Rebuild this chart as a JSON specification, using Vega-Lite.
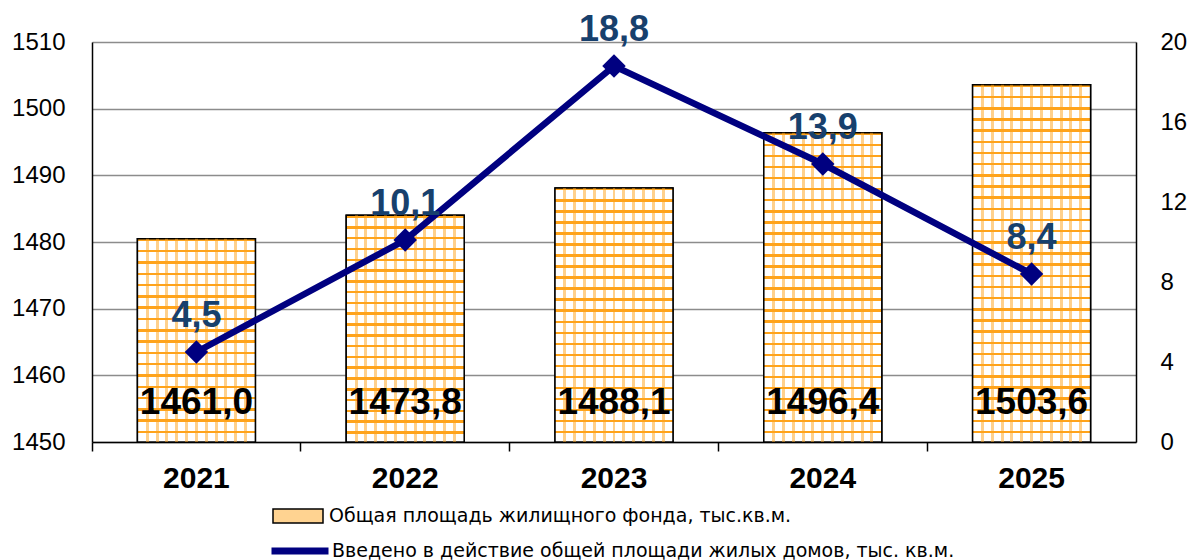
{
  "$schema": "https://vega.github.io/schema/vega-lite/v6.json",
  "width": 1044,
  "height": 400,
  "autosize": {"type": "none"},
  "padding": {"left": 92, "top": 42, "right": 54, "bottom": 118},
  "background": "white",
  "config": {
    "view": {"stroke": null},
    "font": "Liberation Sans"
  },
  "data": {
    "values": [
      {"year": "2021", "area": 1480.5, "area_label": "1461,0", "vvod": 4.5, "vvod_label": "4,5"},
      {"year": "2022", "area": 1484.0, "area_label": "1473,8", "vvod": 10.1, "vvod_label": "10,1"},
      {"year": "2023", "area": 1488.1, "area_label": "1488,1", "vvod": 18.8, "vvod_label": "18,8"},
      {"year": "2024", "area": 1496.4, "area_label": "1496,4", "vvod": 13.9, "vvod_label": "13,9"},
      {"year": "2025", "area": 1503.6, "area_label": "1503,6", "vvod": 8.4, "vvod_label": "8,4"}
    ]
  },
  "encoding": {
    "x": {
      "field": "year",
      "type": "ordinal",
      "scale": {"paddingInner": 0, "paddingOuter": 0},
      "axis": {
        "title": null,
        "labelAngle": 0,
        "bandPosition": 0,
        "grid": false,
        "ticks": true,
        "tickSize": 9,
        "tickColor": "black",
        "tickWidth": 1.5,
        "domainColor": "black",
        "domainWidth": 1.5,
        "labelFont": "Liberation Sans",
        "labelFontSize": 30,
        "labelFontWeight": "bold",
        "labelColor": "black",
        "labelPadding": 12
      }
    }
  },
  "layer": [
    {
      "layer": [
        {
          "mark": {"type": "bar", "width": {"band": 0.565}, "stroke": "black", "strokeWidth": 1.5},
          "encoding": {
            "y": {
              "field": "area",
              "type": "quantitative",
              "scale": {"domain": [1450, 1510], "zero": false, "nice": false},
              "axis": {
                "orient": "left",
                "title": null,
                "values": [1450, 1460, 1470, 1480, 1490, 1500, 1510],
                "format": "d",
                "grid": true,
                "gridColor": "#8c8c8c",
                "gridWidth": 1.5,
                "ticks": false,
                "tickSize": 0,
                "labelPadding": 27,
                "labelFont": "Liberation Sans",
                "labelFontSize": 24,
                "labelColor": "black",
                "domainColor": "black",
                "domainWidth": 1.5
              }
            },
            "y2": {"datum": 1450},
            "fill": {
              "datum": "Общая площадь жилищного фонда, тыс.кв.м.",
              "scale": {"range": ["#FFD391"]},
              "legend": {
                "orient": "none",
                "legendX": 180,
                "legendY": 448,
                "title": null,
                "symbolType": "M-1,-0.28H1V0.28H-1Z",
                "symbolSize": 2500,
                "symbolStrokeColor": "black",
                "symbolStrokeWidth": 1.5,
                "symbolOpacity": 1,
                "labelFont": "DejaVu Sans",
                "labelFontSize": 19,
                "labelColor": "black",
                "labelOffset": 5,
                "labelLimit": 0
              }
            }
          }
        },
        {
          "transform": [{"filter": "datum.year === '2021'"}],
          "mark": {"type": "bar", "width": {"band": 0.565}, "stroke": "black", "strokeWidth": 1.5,
            "fill": {"gradient": "linear", "x1": 0, "y1": 0, "x2": 0, "y2": 1, "stops": [
              {"offset":0,"color":"#ffa31a"},{"offset":0.0123,"color":"#ffa31a"},{"offset":0.0123,"color":"#fff"},{"offset":0.0556,"color":"#fff"},
              {"offset":0.0556,"color":"#ffa31a"},{"offset":0.0679,"color":"#ffa31a"},{"offset":0.0679,"color":"#fff"},{"offset":0.1111,"color":"#fff"},
              {"offset":0.1111,"color":"#ffa31a"},{"offset":0.1234,"color":"#ffa31a"},{"offset":0.1234,"color":"#fff"},{"offset":0.1667,"color":"#fff"},
              {"offset":0.1667,"color":"#ffa31a"},{"offset":0.179,"color":"#ffa31a"},{"offset":0.179,"color":"#fff"},{"offset":0.2222,"color":"#fff"},
              {"offset":0.2222,"color":"#ffa31a"},{"offset":0.2345,"color":"#ffa31a"},{"offset":0.2345,"color":"#fff"},{"offset":0.2778,"color":"#fff"},
              {"offset":0.2778,"color":"#ffa31a"},{"offset":0.2901,"color":"#ffa31a"},{"offset":0.2901,"color":"#fff"},{"offset":0.3333,"color":"#fff"},
              {"offset":0.3333,"color":"#ffa31a"},{"offset":0.3456,"color":"#ffa31a"},{"offset":0.3456,"color":"#fff"},{"offset":0.3889,"color":"#fff"},
              {"offset":0.3889,"color":"#ffa31a"},{"offset":0.4012,"color":"#ffa31a"},{"offset":0.4012,"color":"#fff"},{"offset":0.4444,"color":"#fff"},
              {"offset":0.4444,"color":"#ffa31a"},{"offset":0.4567,"color":"#ffa31a"},{"offset":0.4567,"color":"#fff"},{"offset":0.5,"color":"#fff"},
              {"offset":0.5,"color":"#ffa31a"},{"offset":0.5123,"color":"#ffa31a"},{"offset":0.5123,"color":"#fff"},{"offset":0.5556,"color":"#fff"},
              {"offset":0.5556,"color":"#ffa31a"},{"offset":0.5679,"color":"#ffa31a"},{"offset":0.5679,"color":"#fff"},{"offset":0.6111,"color":"#fff"},
              {"offset":0.6111,"color":"#ffa31a"},{"offset":0.6234,"color":"#ffa31a"},{"offset":0.6234,"color":"#fff"},{"offset":0.6667,"color":"#fff"},
              {"offset":0.6667,"color":"#ffa31a"},{"offset":0.679,"color":"#ffa31a"},{"offset":0.679,"color":"#fff"},{"offset":0.7222,"color":"#fff"},
              {"offset":0.7222,"color":"#ffa31a"},{"offset":0.7345,"color":"#ffa31a"},{"offset":0.7345,"color":"#fff"},{"offset":0.7778,"color":"#fff"},
              {"offset":0.7778,"color":"#ffa31a"},{"offset":0.7901,"color":"#ffa31a"},{"offset":0.7901,"color":"#fff"},{"offset":0.8333,"color":"#fff"},
              {"offset":0.8333,"color":"#ffa31a"},{"offset":0.8456,"color":"#ffa31a"},{"offset":0.8456,"color":"#fff"},{"offset":0.8889,"color":"#fff"},
              {"offset":0.8889,"color":"#ffa31a"},{"offset":0.9012,"color":"#ffa31a"},{"offset":0.9012,"color":"#fff"},{"offset":0.9444,"color":"#fff"},
              {"offset":0.9444,"color":"#ffa31a"},{"offset":0.9567,"color":"#ffa31a"},{"offset":0.9567,"color":"#fff"},{"offset":1,"color":"#fff"}
            ]}},
          "encoding": {"y": {"field": "area", "type": "quantitative"}, "y2": {"datum": 1450}}
        },
        {
          "transform": [{"filter": "datum.year === '2022'"}],
          "mark": {"type": "bar", "width": {"band": 0.565}, "stroke": "black", "strokeWidth": 1.5,
            "fill": {"gradient": "linear", "x1": 0, "y1": 0, "x2": 0, "y2": 1, "stops": [
              {"offset":0,"color":"#ffa31a"},{"offset":0.011,"color":"#ffa31a"},{"offset":0.011,"color":"#fff"},{"offset":0.0476,"color":"#fff"},
              {"offset":0.0476,"color":"#ffa31a"},{"offset":0.0586,"color":"#ffa31a"},{"offset":0.0586,"color":"#fff"},{"offset":0.0952,"color":"#fff"},
              {"offset":0.0952,"color":"#ffa31a"},{"offset":0.1062,"color":"#ffa31a"},{"offset":0.1062,"color":"#fff"},{"offset":0.1429,"color":"#fff"},
              {"offset":0.1429,"color":"#ffa31a"},{"offset":0.1539,"color":"#ffa31a"},{"offset":0.1539,"color":"#fff"},{"offset":0.1905,"color":"#fff"},
              {"offset":0.1905,"color":"#ffa31a"},{"offset":0.2015,"color":"#ffa31a"},{"offset":0.2015,"color":"#fff"},{"offset":0.2381,"color":"#fff"},
              {"offset":0.2381,"color":"#ffa31a"},{"offset":0.2491,"color":"#ffa31a"},{"offset":0.2491,"color":"#fff"},{"offset":0.2857,"color":"#fff"},
              {"offset":0.2857,"color":"#ffa31a"},{"offset":0.2967,"color":"#ffa31a"},{"offset":0.2967,"color":"#fff"},{"offset":0.3333,"color":"#fff"},
              {"offset":0.3333,"color":"#ffa31a"},{"offset":0.3443,"color":"#ffa31a"},{"offset":0.3443,"color":"#fff"},{"offset":0.381,"color":"#fff"},
              {"offset":0.381,"color":"#ffa31a"},{"offset":0.392,"color":"#ffa31a"},{"offset":0.392,"color":"#fff"},{"offset":0.4286,"color":"#fff"},
              {"offset":0.4286,"color":"#ffa31a"},{"offset":0.4396,"color":"#ffa31a"},{"offset":0.4396,"color":"#fff"},{"offset":0.4762,"color":"#fff"},
              {"offset":0.4762,"color":"#ffa31a"},{"offset":0.4872,"color":"#ffa31a"},{"offset":0.4872,"color":"#fff"},{"offset":0.5238,"color":"#fff"},
              {"offset":0.5238,"color":"#ffa31a"},{"offset":0.5348,"color":"#ffa31a"},{"offset":0.5348,"color":"#fff"},{"offset":0.5714,"color":"#fff"},
              {"offset":0.5714,"color":"#ffa31a"},{"offset":0.5824,"color":"#ffa31a"},{"offset":0.5824,"color":"#fff"},{"offset":0.619,"color":"#fff"},
              {"offset":0.619,"color":"#ffa31a"},{"offset":0.63,"color":"#ffa31a"},{"offset":0.63,"color":"#fff"},{"offset":0.6667,"color":"#fff"},
              {"offset":0.6667,"color":"#ffa31a"},{"offset":0.6777,"color":"#ffa31a"},{"offset":0.6777,"color":"#fff"},{"offset":0.7143,"color":"#fff"},
              {"offset":0.7143,"color":"#ffa31a"},{"offset":0.7253,"color":"#ffa31a"},{"offset":0.7253,"color":"#fff"},{"offset":0.7619,"color":"#fff"},
              {"offset":0.7619,"color":"#ffa31a"},{"offset":0.7729,"color":"#ffa31a"},{"offset":0.7729,"color":"#fff"},{"offset":0.8095,"color":"#fff"},
              {"offset":0.8095,"color":"#ffa31a"},{"offset":0.8205,"color":"#ffa31a"},{"offset":0.8205,"color":"#fff"},{"offset":0.8571,"color":"#fff"},
              {"offset":0.8571,"color":"#ffa31a"},{"offset":0.8681,"color":"#ffa31a"},{"offset":0.8681,"color":"#fff"},{"offset":0.9048,"color":"#fff"},
              {"offset":0.9048,"color":"#ffa31a"},{"offset":0.9158,"color":"#ffa31a"},{"offset":0.9158,"color":"#fff"},{"offset":0.9524,"color":"#fff"},
              {"offset":0.9524,"color":"#ffa31a"},{"offset":0.9634,"color":"#ffa31a"},{"offset":0.9634,"color":"#fff"},{"offset":1,"color":"#fff"}
            ]}},
          "encoding": {"y": {"field": "area", "type": "quantitative"}, "y2": {"datum": 1450}}
        },
        {
          "transform": [{"filter": "datum.year === '2023'"}],
          "mark": {"type": "bar", "width": {"band": 0.565}, "stroke": "black", "strokeWidth": 1.5,
            "fill": {"gradient": "linear", "x1": 0, "y1": 0, "x2": 0, "y2": 1, "stops": [
              {"offset":0,"color":"#ffa31a"},{"offset":0.0098,"color":"#ffa31a"},{"offset":0.0098,"color":"#fff"},{"offset":0.0435,"color":"#fff"},
              {"offset":0.0435,"color":"#ffa31a"},{"offset":0.0533,"color":"#ffa31a"},{"offset":0.0533,"color":"#fff"},{"offset":0.087,"color":"#fff"},
              {"offset":0.087,"color":"#ffa31a"},{"offset":0.0968,"color":"#ffa31a"},{"offset":0.0968,"color":"#fff"},{"offset":0.1304,"color":"#fff"},
              {"offset":0.1304,"color":"#ffa31a"},{"offset":0.1402,"color":"#ffa31a"},{"offset":0.1402,"color":"#fff"},{"offset":0.1739,"color":"#fff"},
              {"offset":0.1739,"color":"#ffa31a"},{"offset":0.1837,"color":"#ffa31a"},{"offset":0.1837,"color":"#fff"},{"offset":0.2174,"color":"#fff"},
              {"offset":0.2174,"color":"#ffa31a"},{"offset":0.2272,"color":"#ffa31a"},{"offset":0.2272,"color":"#fff"},{"offset":0.2609,"color":"#fff"},
              {"offset":0.2609,"color":"#ffa31a"},{"offset":0.2707,"color":"#ffa31a"},{"offset":0.2707,"color":"#fff"},{"offset":0.3043,"color":"#fff"},
              {"offset":0.3043,"color":"#ffa31a"},{"offset":0.3141,"color":"#ffa31a"},{"offset":0.3141,"color":"#fff"},{"offset":0.3478,"color":"#fff"},
              {"offset":0.3478,"color":"#ffa31a"},{"offset":0.3576,"color":"#ffa31a"},{"offset":0.3576,"color":"#fff"},{"offset":0.3913,"color":"#fff"},
              {"offset":0.3913,"color":"#ffa31a"},{"offset":0.4011,"color":"#ffa31a"},{"offset":0.4011,"color":"#fff"},{"offset":0.4348,"color":"#fff"},
              {"offset":0.4348,"color":"#ffa31a"},{"offset":0.4446,"color":"#ffa31a"},{"offset":0.4446,"color":"#fff"},{"offset":0.4783,"color":"#fff"},
              {"offset":0.4783,"color":"#ffa31a"},{"offset":0.4881,"color":"#ffa31a"},{"offset":0.4881,"color":"#fff"},{"offset":0.5217,"color":"#fff"},
              {"offset":0.5217,"color":"#ffa31a"},{"offset":0.5315,"color":"#ffa31a"},{"offset":0.5315,"color":"#fff"},{"offset":0.5652,"color":"#fff"},
              {"offset":0.5652,"color":"#ffa31a"},{"offset":0.575,"color":"#ffa31a"},{"offset":0.575,"color":"#fff"},{"offset":0.6087,"color":"#fff"},
              {"offset":0.6087,"color":"#ffa31a"},{"offset":0.6185,"color":"#ffa31a"},{"offset":0.6185,"color":"#fff"},{"offset":0.6522,"color":"#fff"},
              {"offset":0.6522,"color":"#ffa31a"},{"offset":0.662,"color":"#ffa31a"},{"offset":0.662,"color":"#fff"},{"offset":0.6957,"color":"#fff"},
              {"offset":0.6957,"color":"#ffa31a"},{"offset":0.7055,"color":"#ffa31a"},{"offset":0.7055,"color":"#fff"},{"offset":0.7391,"color":"#fff"},
              {"offset":0.7391,"color":"#ffa31a"},{"offset":0.7489,"color":"#ffa31a"},{"offset":0.7489,"color":"#fff"},{"offset":0.7826,"color":"#fff"},
              {"offset":0.7826,"color":"#ffa31a"},{"offset":0.7924,"color":"#ffa31a"},{"offset":0.7924,"color":"#fff"},{"offset":0.8261,"color":"#fff"},
              {"offset":0.8261,"color":"#ffa31a"},{"offset":0.8359,"color":"#ffa31a"},{"offset":0.8359,"color":"#fff"},{"offset":0.8696,"color":"#fff"},
              {"offset":0.8696,"color":"#ffa31a"},{"offset":0.8794,"color":"#ffa31a"},{"offset":0.8794,"color":"#fff"},{"offset":0.913,"color":"#fff"},
              {"offset":0.913,"color":"#ffa31a"},{"offset":0.9228,"color":"#ffa31a"},{"offset":0.9228,"color":"#fff"},{"offset":0.9565,"color":"#fff"},
              {"offset":0.9565,"color":"#ffa31a"},{"offset":0.9663,"color":"#ffa31a"},{"offset":0.9663,"color":"#fff"},{"offset":1,"color":"#fff"}
            ]}},
          "encoding": {"y": {"field": "area", "type": "quantitative"}, "y2": {"datum": 1450}}
        },
        {
          "transform": [{"filter": "datum.year === '2024'"}],
          "mark": {"type": "bar", "width": {"band": 0.565}, "stroke": "black", "strokeWidth": 1.5,
            "fill": {"gradient": "linear", "x1": 0, "y1": 0, "x2": 0, "y2": 1, "stops": [
              {"offset":0,"color":"#ffa31a"},{"offset":0.0081,"color":"#ffa31a"},{"offset":0.0081,"color":"#fff"},{"offset":0.0357,"color":"#fff"},
              {"offset":0.0357,"color":"#ffa31a"},{"offset":0.0438,"color":"#ffa31a"},{"offset":0.0438,"color":"#fff"},{"offset":0.0714,"color":"#fff"},
              {"offset":0.0714,"color":"#ffa31a"},{"offset":0.0795,"color":"#ffa31a"},{"offset":0.0795,"color":"#fff"},{"offset":0.1071,"color":"#fff"},
              {"offset":0.1071,"color":"#ffa31a"},{"offset":0.1152,"color":"#ffa31a"},{"offset":0.1152,"color":"#fff"},{"offset":0.1429,"color":"#fff"},
              {"offset":0.1429,"color":"#ffa31a"},{"offset":0.151,"color":"#ffa31a"},{"offset":0.151,"color":"#fff"},{"offset":0.1786,"color":"#fff"},
              {"offset":0.1786,"color":"#ffa31a"},{"offset":0.1867,"color":"#ffa31a"},{"offset":0.1867,"color":"#fff"},{"offset":0.2143,"color":"#fff"},
              {"offset":0.2143,"color":"#ffa31a"},{"offset":0.2224,"color":"#ffa31a"},{"offset":0.2224,"color":"#fff"},{"offset":0.25,"color":"#fff"},
              {"offset":0.25,"color":"#ffa31a"},{"offset":0.2581,"color":"#ffa31a"},{"offset":0.2581,"color":"#fff"},{"offset":0.2857,"color":"#fff"},
              {"offset":0.2857,"color":"#ffa31a"},{"offset":0.2938,"color":"#ffa31a"},{"offset":0.2938,"color":"#fff"},{"offset":0.3214,"color":"#fff"},
              {"offset":0.3214,"color":"#ffa31a"},{"offset":0.3295,"color":"#ffa31a"},{"offset":0.3295,"color":"#fff"},{"offset":0.3571,"color":"#fff"},
              {"offset":0.3571,"color":"#ffa31a"},{"offset":0.3652,"color":"#ffa31a"},{"offset":0.3652,"color":"#fff"},{"offset":0.3929,"color":"#fff"},
              {"offset":0.3929,"color":"#ffa31a"},{"offset":0.401,"color":"#ffa31a"},{"offset":0.401,"color":"#fff"},{"offset":0.4286,"color":"#fff"},
              {"offset":0.4286,"color":"#ffa31a"},{"offset":0.4367,"color":"#ffa31a"},{"offset":0.4367,"color":"#fff"},{"offset":0.4643,"color":"#fff"},
              {"offset":0.4643,"color":"#ffa31a"},{"offset":0.4724,"color":"#ffa31a"},{"offset":0.4724,"color":"#fff"},{"offset":0.5,"color":"#fff"},
              {"offset":0.5,"color":"#ffa31a"},{"offset":0.5081,"color":"#ffa31a"},{"offset":0.5081,"color":"#fff"},{"offset":0.5357,"color":"#fff"},
              {"offset":0.5357,"color":"#ffa31a"},{"offset":0.5438,"color":"#ffa31a"},{"offset":0.5438,"color":"#fff"},{"offset":0.5714,"color":"#fff"},
              {"offset":0.5714,"color":"#ffa31a"},{"offset":0.5795,"color":"#ffa31a"},{"offset":0.5795,"color":"#fff"},{"offset":0.6071,"color":"#fff"},
              {"offset":0.6071,"color":"#ffa31a"},{"offset":0.6152,"color":"#ffa31a"},{"offset":0.6152,"color":"#fff"},{"offset":0.6429,"color":"#fff"},
              {"offset":0.6429,"color":"#ffa31a"},{"offset":0.651,"color":"#ffa31a"},{"offset":0.651,"color":"#fff"},{"offset":0.6786,"color":"#fff"},
              {"offset":0.6786,"color":"#ffa31a"},{"offset":0.6867,"color":"#ffa31a"},{"offset":0.6867,"color":"#fff"},{"offset":0.7143,"color":"#fff"},
              {"offset":0.7143,"color":"#ffa31a"},{"offset":0.7224,"color":"#ffa31a"},{"offset":0.7224,"color":"#fff"},{"offset":0.75,"color":"#fff"},
              {"offset":0.75,"color":"#ffa31a"},{"offset":0.7581,"color":"#ffa31a"},{"offset":0.7581,"color":"#fff"},{"offset":0.7857,"color":"#fff"},
              {"offset":0.7857,"color":"#ffa31a"},{"offset":0.7938,"color":"#ffa31a"},{"offset":0.7938,"color":"#fff"},{"offset":0.8214,"color":"#fff"},
              {"offset":0.8214,"color":"#ffa31a"},{"offset":0.8295,"color":"#ffa31a"},{"offset":0.8295,"color":"#fff"},{"offset":0.8571,"color":"#fff"},
              {"offset":0.8571,"color":"#ffa31a"},{"offset":0.8652,"color":"#ffa31a"},{"offset":0.8652,"color":"#fff"},{"offset":0.8929,"color":"#fff"},
              {"offset":0.8929,"color":"#ffa31a"},{"offset":0.901,"color":"#ffa31a"},{"offset":0.901,"color":"#fff"},{"offset":0.9286,"color":"#fff"},
              {"offset":0.9286,"color":"#ffa31a"},{"offset":0.9367,"color":"#ffa31a"},{"offset":0.9367,"color":"#fff"},{"offset":0.9643,"color":"#fff"},
              {"offset":0.9643,"color":"#ffa31a"},{"offset":0.9724,"color":"#ffa31a"},{"offset":0.9724,"color":"#fff"},{"offset":1,"color":"#fff"}
            ]}},
          "encoding": {"y": {"field": "area", "type": "quantitative"}, "y2": {"datum": 1450}}
        },
        {
          "transform": [{"filter": "datum.year === '2025'"}],
          "mark": {"type": "bar", "width": {"band": 0.565}, "stroke": "black", "strokeWidth": 1.5,
            "fill": {"gradient": "linear", "x1": 0, "y1": 0, "x2": 0, "y2": 1, "stops": [
              {"offset":0,"color":"#ffa31a"},{"offset":0.007,"color":"#ffa31a"},{"offset":0.007,"color":"#fff"},{"offset":0.0313,"color":"#fff"},
              {"offset":0.0313,"color":"#ffa31a"},{"offset":0.0383,"color":"#ffa31a"},{"offset":0.0383,"color":"#fff"},{"offset":0.0625,"color":"#fff"},
              {"offset":0.0625,"color":"#ffa31a"},{"offset":0.0695,"color":"#ffa31a"},{"offset":0.0695,"color":"#fff"},{"offset":0.0938,"color":"#fff"},
              {"offset":0.0938,"color":"#ffa31a"},{"offset":0.1008,"color":"#ffa31a"},{"offset":0.1008,"color":"#fff"},{"offset":0.125,"color":"#fff"},
              {"offset":0.125,"color":"#ffa31a"},{"offset":0.132,"color":"#ffa31a"},{"offset":0.132,"color":"#fff"},{"offset":0.1563,"color":"#fff"},
              {"offset":0.1563,"color":"#ffa31a"},{"offset":0.1633,"color":"#ffa31a"},{"offset":0.1633,"color":"#fff"},{"offset":0.1875,"color":"#fff"},
              {"offset":0.1875,"color":"#ffa31a"},{"offset":0.1945,"color":"#ffa31a"},{"offset":0.1945,"color":"#fff"},{"offset":0.2188,"color":"#fff"},
              {"offset":0.2188,"color":"#ffa31a"},{"offset":0.2258,"color":"#ffa31a"},{"offset":0.2258,"color":"#fff"},{"offset":0.25,"color":"#fff"},
              {"offset":0.25,"color":"#ffa31a"},{"offset":0.257,"color":"#ffa31a"},{"offset":0.257,"color":"#fff"},{"offset":0.2813,"color":"#fff"},
              {"offset":0.2813,"color":"#ffa31a"},{"offset":0.2883,"color":"#ffa31a"},{"offset":0.2883,"color":"#fff"},{"offset":0.3125,"color":"#fff"},
              {"offset":0.3125,"color":"#ffa31a"},{"offset":0.3195,"color":"#ffa31a"},{"offset":0.3195,"color":"#fff"},{"offset":0.3438,"color":"#fff"},
              {"offset":0.3438,"color":"#ffa31a"},{"offset":0.3508,"color":"#ffa31a"},{"offset":0.3508,"color":"#fff"},{"offset":0.375,"color":"#fff"},
              {"offset":0.375,"color":"#ffa31a"},{"offset":0.382,"color":"#ffa31a"},{"offset":0.382,"color":"#fff"},{"offset":0.4063,"color":"#fff"},
              {"offset":0.4063,"color":"#ffa31a"},{"offset":0.4133,"color":"#ffa31a"},{"offset":0.4133,"color":"#fff"},{"offset":0.4375,"color":"#fff"},
              {"offset":0.4375,"color":"#ffa31a"},{"offset":0.4445,"color":"#ffa31a"},{"offset":0.4445,"color":"#fff"},{"offset":0.4688,"color":"#fff"},
              {"offset":0.4688,"color":"#ffa31a"},{"offset":0.4758,"color":"#ffa31a"},{"offset":0.4758,"color":"#fff"},{"offset":0.5,"color":"#fff"},
              {"offset":0.5,"color":"#ffa31a"},{"offset":0.507,"color":"#ffa31a"},{"offset":0.507,"color":"#fff"},{"offset":0.5313,"color":"#fff"},
              {"offset":0.5313,"color":"#ffa31a"},{"offset":0.5383,"color":"#ffa31a"},{"offset":0.5383,"color":"#fff"},{"offset":0.5625,"color":"#fff"},
              {"offset":0.5625,"color":"#ffa31a"},{"offset":0.5695,"color":"#ffa31a"},{"offset":0.5695,"color":"#fff"},{"offset":0.5938,"color":"#fff"},
              {"offset":0.5938,"color":"#ffa31a"},{"offset":0.6008,"color":"#ffa31a"},{"offset":0.6008,"color":"#fff"},{"offset":0.625,"color":"#fff"},
              {"offset":0.625,"color":"#ffa31a"},{"offset":0.632,"color":"#ffa31a"},{"offset":0.632,"color":"#fff"},{"offset":0.6563,"color":"#fff"},
              {"offset":0.6563,"color":"#ffa31a"},{"offset":0.6633,"color":"#ffa31a"},{"offset":0.6633,"color":"#fff"},{"offset":0.6875,"color":"#fff"},
              {"offset":0.6875,"color":"#ffa31a"},{"offset":0.6945,"color":"#ffa31a"},{"offset":0.6945,"color":"#fff"},{"offset":0.7188,"color":"#fff"},
              {"offset":0.7188,"color":"#ffa31a"},{"offset":0.7258,"color":"#ffa31a"},{"offset":0.7258,"color":"#fff"},{"offset":0.75,"color":"#fff"},
              {"offset":0.75,"color":"#ffa31a"},{"offset":0.757,"color":"#ffa31a"},{"offset":0.757,"color":"#fff"},{"offset":0.7813,"color":"#fff"},
              {"offset":0.7813,"color":"#ffa31a"},{"offset":0.7883,"color":"#ffa31a"},{"offset":0.7883,"color":"#fff"},{"offset":0.8125,"color":"#fff"},
              {"offset":0.8125,"color":"#ffa31a"},{"offset":0.8195,"color":"#ffa31a"},{"offset":0.8195,"color":"#fff"},{"offset":0.8438,"color":"#fff"},
              {"offset":0.8438,"color":"#ffa31a"},{"offset":0.8508,"color":"#ffa31a"},{"offset":0.8508,"color":"#fff"},{"offset":0.875,"color":"#fff"},
              {"offset":0.875,"color":"#ffa31a"},{"offset":0.882,"color":"#ffa31a"},{"offset":0.882,"color":"#fff"},{"offset":0.9063,"color":"#fff"},
              {"offset":0.9063,"color":"#ffa31a"},{"offset":0.9133,"color":"#ffa31a"},{"offset":0.9133,"color":"#fff"},{"offset":0.9375,"color":"#fff"},
              {"offset":0.9375,"color":"#ffa31a"},{"offset":0.9445,"color":"#ffa31a"},{"offset":0.9445,"color":"#fff"},{"offset":0.9688,"color":"#fff"},
              {"offset":0.9688,"color":"#ffa31a"},{"offset":0.9758,"color":"#ffa31a"},{"offset":0.9758,"color":"#fff"},{"offset":1,"color":"#fff"}
            ]}},
          "encoding": {"y": {"field": "area", "type": "quantitative"}, "y2": {"datum": 1450}}
        },
        {
          "mark": {"type": "bar", "width": {"band": 0.565}, "strokeWidth": 0,
            "fill": {"gradient": "linear", "x1": 0, "y1": 0, "x2": 1, "y2": 0, "stops": [
              {"offset":0,"color":"rgba(255,163,26,0)"},
              {"offset":0.0706,"color":"rgba(255,163,26,0)"},{"offset":0.0706,"color":"rgba(255,163,26,0.5)"},{"offset":0.096,"color":"rgba(255,163,26,0.5)"},{"offset":0.096,"color":"rgba(255,163,26,0)"},
              {"offset":0.154,"color":"rgba(255,163,26,0)"},{"offset":0.154,"color":"rgba(255,163,26,0.5)"},{"offset":0.1794,"color":"rgba(255,163,26,0.5)"},{"offset":0.1794,"color":"rgba(255,163,26,0)"},
              {"offset":0.2373,"color":"rgba(255,163,26,0)"},{"offset":0.2373,"color":"rgba(255,163,26,0.5)"},{"offset":0.2627,"color":"rgba(255,163,26,0.5)"},{"offset":0.2627,"color":"rgba(255,163,26,0)"},
              {"offset":0.3206,"color":"rgba(255,163,26,0)"},{"offset":0.3206,"color":"rgba(255,163,26,0.5)"},{"offset":0.346,"color":"rgba(255,163,26,0.5)"},{"offset":0.346,"color":"rgba(255,163,26,0)"},
              {"offset":0.404,"color":"rgba(255,163,26,0)"},{"offset":0.404,"color":"rgba(255,163,26,0.5)"},{"offset":0.4294,"color":"rgba(255,163,26,0.5)"},{"offset":0.4294,"color":"rgba(255,163,26,0)"},
              {"offset":0.4873,"color":"rgba(255,163,26,0)"},{"offset":0.4873,"color":"rgba(255,163,26,0.5)"},{"offset":0.5127,"color":"rgba(255,163,26,0.5)"},{"offset":0.5127,"color":"rgba(255,163,26,0)"},
              {"offset":0.5706,"color":"rgba(255,163,26,0)"},{"offset":0.5706,"color":"rgba(255,163,26,0.5)"},{"offset":0.596,"color":"rgba(255,163,26,0.5)"},{"offset":0.596,"color":"rgba(255,163,26,0)"},
              {"offset":0.654,"color":"rgba(255,163,26,0)"},{"offset":0.654,"color":"rgba(255,163,26,0.5)"},{"offset":0.6794,"color":"rgba(255,163,26,0.5)"},{"offset":0.6794,"color":"rgba(255,163,26,0)"},
              {"offset":0.7373,"color":"rgba(255,163,26,0)"},{"offset":0.7373,"color":"rgba(255,163,26,0.5)"},{"offset":0.7627,"color":"rgba(255,163,26,0.5)"},{"offset":0.7627,"color":"rgba(255,163,26,0)"},
              {"offset":0.8206,"color":"rgba(255,163,26,0)"},{"offset":0.8206,"color":"rgba(255,163,26,0.5)"},{"offset":0.846,"color":"rgba(255,163,26,0.5)"},{"offset":0.846,"color":"rgba(255,163,26,0)"},
              {"offset":0.904,"color":"rgba(255,163,26,0)"},{"offset":0.904,"color":"rgba(255,163,26,0.5)"},{"offset":0.9294,"color":"rgba(255,163,26,0.5)"},{"offset":0.9294,"color":"rgba(255,163,26,0)"},
              {"offset":1,"color":"rgba(255,163,26,0)"}
            ]}},
          "encoding": {"y": {"field": "area", "type": "quantitative"}, "y2": {"datum": 1450}}
        },
        {
          "mark": {"type": "text", "fontSize": 37, "fontWeight": "bold", "color": "black", "baseline": "alphabetic", "align": "center"},
          "encoding": {
            "y": {"datum": 1454.2, "type": "quantitative"},
            "text": {"field": "area_label", "type": "nominal"}
          }
        }
      ]
    },
    {
      "layer": [
        {
          "mark": {"type": "line", "strokeWidth": 6.5},
          "encoding": {
            "y": {
              "field": "vvod",
              "type": "quantitative",
              "scale": {"domain": [0, 20], "nice": false},
              "axis": {
                "orient": "right",
                "title": null,
                "values": [0, 4, 8, 12, 16, 20],
                "grid": false,
                "ticks": false,
                "tickSize": 0,
                "labelPadding": 24,
                "labelFont": "Liberation Sans",
                "labelFontSize": 24,
                "labelColor": "black",
                "domainColor": "black",
                "domainWidth": 1.5
              }
            },
            "stroke": {
              "datum": "Введено в действие общей площади жилых домов, тыс. кв.м.",
              "scale": {"range": ["#000080"]},
              "legend": {
                "orient": "none",
                "legendX": 176,
                "legendY": 477,
                "title": null,
                "symbolType": "stroke",
                "symbolSize": 3249,
                "symbolStrokeWidth": 7,
                "labelFont": "DejaVu Sans",
                "labelFontSize": 19,
                "labelColor": "black",
                "labelOffset": 0,
                "labelLimit": 0
              }
            }
          }
        },
        {
          "mark": {"type": "point", "shape": "diamond", "size": 550, "filled": true, "color": "#000080", "opacity": 1},
          "encoding": {
            "y": {"field": "vvod", "type": "quantitative"}
          }
        },
        {
          "mark": {"type": "text", "fontSize": 36, "fontWeight": "bold", "color": "#17406D", "baseline": "alphabetic", "align": "center", "dy": -25},
          "encoding": {
            "y": {"field": "vvod", "type": "quantitative"},
            "text": {"field": "vvod_label", "type": "nominal"}
          }
        }
      ]
    }
  ],
  "resolve": {"scale": {"y": "independent", "fill": "independent", "stroke": "independent"}}
}
